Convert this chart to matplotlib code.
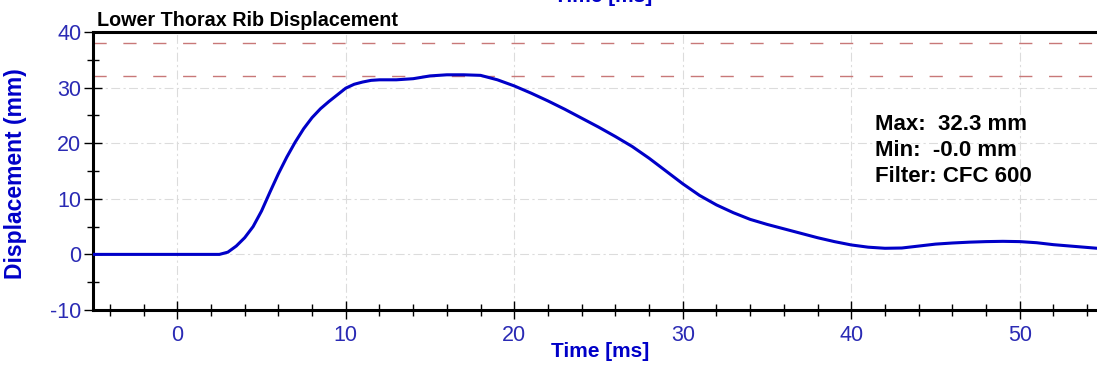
import matplotlib.pyplot as plt
from matplotlib.ticker import MultipleLocator

plt.rcParams['font.family'] = ['Liberation Sans', 'DejaVu Sans']
plt.rcParams['axes.unicode_minus'] = False

# displacement trace
time_ms = [-5, 0, 2.5, 3.0, 3.5, 4.0, 4.5, 5.0, 5.5, 6.0, 6.5, 7.0, 7.5, 8.0, 8.5,
           9.0, 9.5, 10.0, 10.5, 11.0, 11.5, 12, 13, 14, 15, 16, 17, 18, 19, 20,
           21, 22, 23, 24, 25, 26, 27, 28, 29, 30, 31, 32, 33, 34, 35, 36, 37, 38,
           39, 40, 41, 42, 43, 44, 45, 46, 47, 48, 49, 50, 51, 52, 53, 54, 55]
disp_mm = [0, 0, 0.0, 0.4, 1.5, 3.0, 5.0, 7.8, 11.2, 14.5, 17.5, 20.2, 22.6, 24.6, 26.2,
           27.5, 28.7, 29.9, 30.6, 31.0, 31.3, 31.4, 31.4, 31.6, 32.1, 32.3, 32.3, 32.2, 31.4, 30.3,
           29.0, 27.6, 26.1, 24.5, 22.9, 21.2, 19.4, 17.3, 15.0, 12.7, 10.6, 8.9, 7.5, 6.3, 5.4, 4.6, 3.8, 3.0,
           2.3, 1.7, 1.3, 1.1, 1.15, 1.5, 1.85, 2.05, 2.2, 2.3, 2.35, 2.3, 2.1, 1.75, 1.5, 1.25, 1.0]
limits_mm = [38, 32]
stats = ["Max:  32.3 mm", "Min:  -0.0 mm", "Filter: CFC 600"]

blue = '#0000c8'
tick_blue = '#2a2ab4'

fig = plt.figure(figsize=(10.97, 3.66), dpi=100)
ax = fig.add_axes([0.0848, 0.153, 0.9216, 0.7596])

ax.plot(time_ms, disp_mm, color=blue, linewidth=2.2, zorder=3)
for lim in limits_mm:
    ax.axhline(lim, color='#c87878', linewidth=1, linestyle=(0, (9.5, 12)), zorder=2)

ax.set_xlim(-5, 55)
ax.set_ylim(-10, 40)
ax.xaxis.set_major_locator(MultipleLocator(10))
ax.xaxis.set_minor_locator(MultipleLocator(2))
ax.yaxis.set_major_locator(MultipleLocator(10))
ax.yaxis.set_minor_locator(MultipleLocator(5))
ax.grid(True, which='major', color='#dcdcdc', linewidth=0.8, linestyle=(0, (8, 3, 2, 3)))

for side in ['left', 'bottom', 'top']:
    ax.spines[side].set_linewidth(2.2)
ax.spines['right'].set_visible(False)

ax.tick_params(axis='both', which='major', direction='inout', length=13, width=1,
               labelsize=15.5, labelcolor=tick_blue)
ax.tick_params(axis='both', which='minor', direction='inout', length=8, width=1)
ax.tick_params(axis='x', which='major', pad=4)
ax.tick_params(axis='y', which='major', pad=2)

fig.text(97 / 1097, 1 - 26 / 366, "Lower Thorax Rib Displacement", fontsize=14.2,
         fontweight='bold', color='black', va='baseline')
fig.text(600 / 1097, 1 - 357 / 366, "Time [ms]", fontsize=15, fontweight='bold',
         color=blue, ha='center', va='baseline')
# second copy of the axis title, clipped at the top edge as in the source image
fig.text(603 / 1097, 1 - 2.5 / 366, "Time [ms]", fontsize=15, fontweight='bold',
         color=blue, ha='center', va='baseline')
fig.text(16 / 1097, 1 - 174 / 366, "Displacement (mm)", fontsize=16.5, fontweight='bold',
         color=blue, ha='center', va='center', rotation=90)

for i, line in enumerate(stats):
    fig.text(875 / 1097, 1 - (130 + 26 * i) / 366, line, fontsize=16,
             fontweight='bold', color='black', va='baseline')

plt.savefig("out.png", dpi=100)
